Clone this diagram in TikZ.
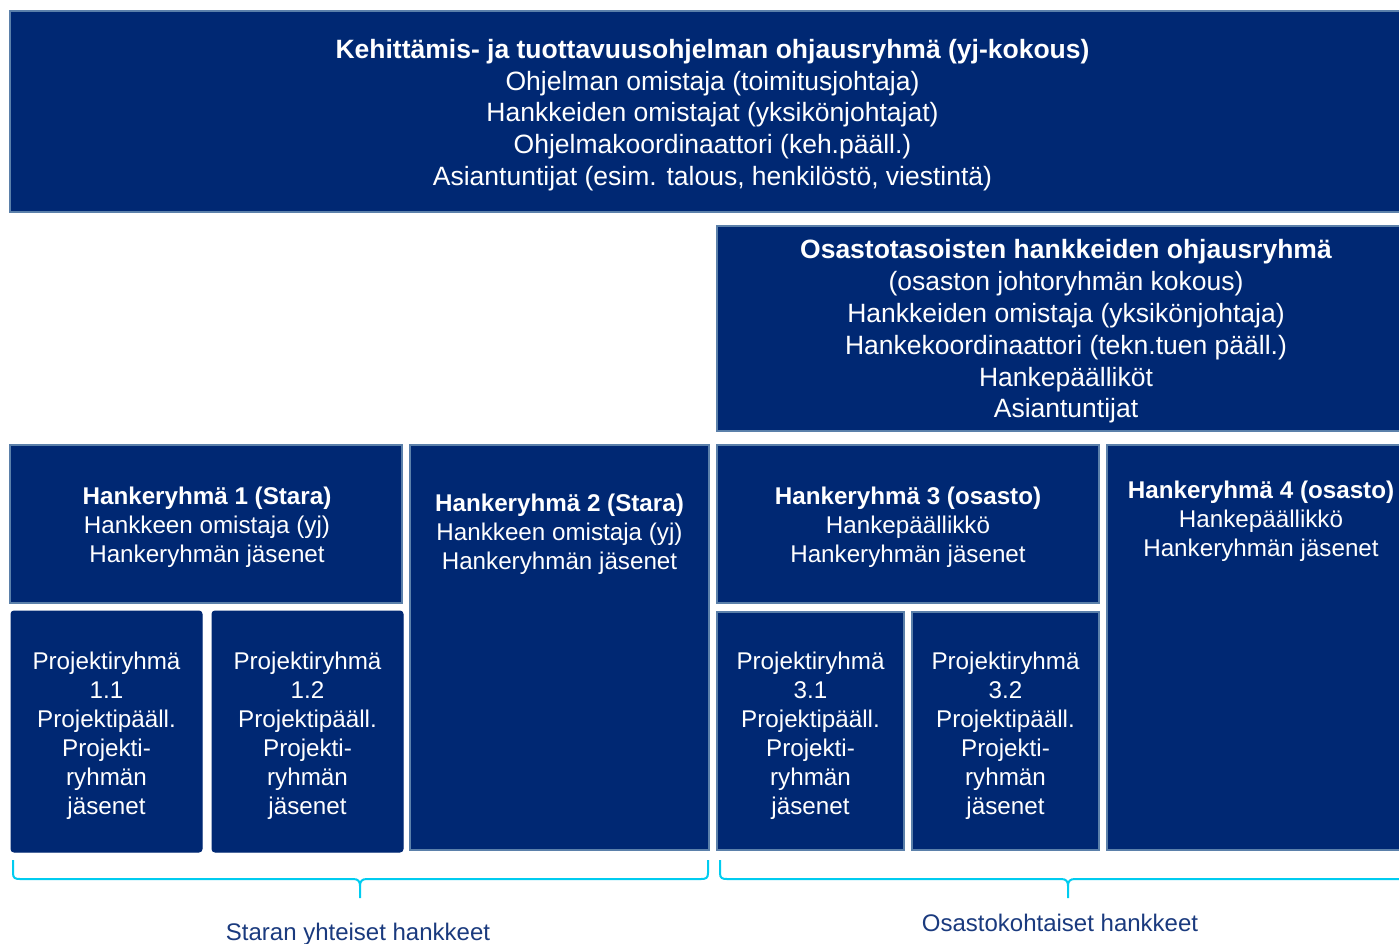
\documentclass[tikz,border=0pt]{standalone}
\usepackage{fontspec}
\setmainfont{Liberation Sans}
\definecolor{navy}{HTML}{002873}
\definecolor{edgeblue}{HTML}{5B80AA}
\definecolor{bracecol}{HTML}{00CCF0}
\definecolor{lblcol}{HTML}{1A3A7E}
\tikzset{
  box/.style={draw=edgeblue, fill=navy, line width=2.5pt, inner sep=0pt},
  pbox/.style={draw=navy, fill=navy, line width=1pt, rounded corners=3pt, inner sep=0pt},
  bigtxt/.style={text=white, align=center, font=\fontsize{26.5}{31.8}\selectfont},
  smalltxt/.style={text=white, align=center, font=\fontsize{24.2}{29}\selectfont},
  bracepath/.style={draw=bracecol, line width=2pt},
  lbltxt/.style={text=lblcol, font=\fontsize{24}{29}\selectfont}
}
\begin{document}
\begin{tikzpicture}[x=1pt,y=-1pt]
\useasboundingbox (0,0) rectangle (1399,943);
\clip (0,0) rectangle (1399,943);
\fill[white] (0,0) rectangle (1399,943);

% top steering group
\node[box, minimum width=1405pt, minimum height=201pt] (top) at (712.5,111.5) {};
\node[bigtxt] (toptxt) at (712.5,115) {\textbf{Kehittämis- ja tuottavuusohjelman ohjausryhmä (yj-kokous)}\\Ohjelman omistaja (toimitusjohtaja)\\Hankkeiden omistajat (yksikönjohtajat)\\Ohjelmakoordinaattori (keh.pääll.)\\Asiantuntijat (esim. talous, henkilöstö, viestintä)};

% department steering group
\node[box, minimum width=698pt, minimum height=205pt] (osasto) at (1066,328.5) {};
\node[bigtxt] (osastotxt) at (1066,331.5) {\textbf{Osastotasoisten hankkeiden ohjausryhmä}\\(osaston johtoryhmän kokous)\\Hankkeiden omistaja (yksikönjohtaja)\\Hankekoordinaattori (tekn.tuen pääll.)\\Hankepäälliköt\\Asiantuntijat};

% project groups
\node[box, minimum width=392pt, minimum height=158pt] (h1) at (206,524) {};
\node[smalltxt] (h1txt) at (207,527) {\textbf{Hankeryhmä 1 (Stara)}\\Hankkeen omistaja (yj)\\Hankeryhmän jäsenet};

\node[box, minimum width=299pt, minimum height=405pt] (h2) at (559.5,647.5) {};
\node[smalltxt] (h2txt) at (559.5,534) {\textbf{Hankeryhmä 2 (Stara)}\\Hankkeen omistaja (yj)\\Hankeryhmän jäsenet};

\node[box, minimum width=382pt, minimum height=158pt] (h3) at (908,524) {};
\node[smalltxt] (h3txt) at (908,527) {\textbf{Hankeryhmä 3 (osasto)}\\Hankepäällikkö\\Hankeryhmän jäsenet};

\node[box, minimum width=308pt, minimum height=405pt] (h4) at (1261,647.5) {};
\node[smalltxt] (h4txt) at (1261,521) {\textbf{Hankeryhmä 4 (osasto)}\\Hankepäällikkö\\Hankeryhmän jäsenet};

% sub-projects
\node[pbox, minimum width=191pt, minimum height=241pt] (p11) at (106.5,731.5) {};
\node[smalltxt] (p11txt) at (106.5,735.5) {Projektiryhmä\\1.1\\Projektipääll.\\Projekti-\\ryhmän\\jäsenet};

\node[pbox, minimum width=191pt, minimum height=241pt] (p12) at (307.5,731.5) {};
\node[smalltxt] (p12txt) at (307.5,735.5) {Projektiryhmä\\1.2\\Projektipääll.\\Projekti-\\ryhmän\\jäsenet};

\node[box, minimum width=187pt, minimum height=238pt] (p31) at (810.5,731) {};
\node[smalltxt] (p31txt) at (810.5,735.5) {Projektiryhmä\\3.1\\Projektipääll.\\Projekti-\\ryhmän\\jäsenet};

\node[box, minimum width=187pt, minimum height=238pt] (p32) at (1005.5,731) {};
\node[smalltxt] (p32txt) at (1005.5,735.5) {Projektiryhmä\\3.2\\Projektipääll.\\Projekti-\\ryhmän\\jäsenet};

% braces
\draw[bracepath] (13,860) -- (13,873) .. controls (13,878) and (15,879) .. (20,879) -- (353,879) .. controls (358,879) and (360,881) .. (360,886) -- (360,898);
\draw[bracepath] (360,886) .. controls (360,881) and (362,879) .. (367,879) -- (701,879) .. controls (706,879) and (708,878) .. (708,873) -- (708,860);

\draw[bracepath] (720,860) -- (720,873) .. controls (720,878) and (722,879) .. (727,879) -- (1061,879) .. controls (1066,879) and (1068,881) .. (1068,886) -- (1068,898);
\draw[bracepath] (1068,886) .. controls (1068,881) and (1070,879) .. (1075,879) -- (1409,879) .. controls (1414,879) and (1416,878) .. (1416,873) -- (1416,860);

% labels
\node[lbltxt] (lbl1) at (358,934) {Staran yhteiset hankkeet};
\node[lbltxt] (lbl2) at (1060,923) {Osastokohtaiset hankkeet};
\end{tikzpicture}
\end{document}
